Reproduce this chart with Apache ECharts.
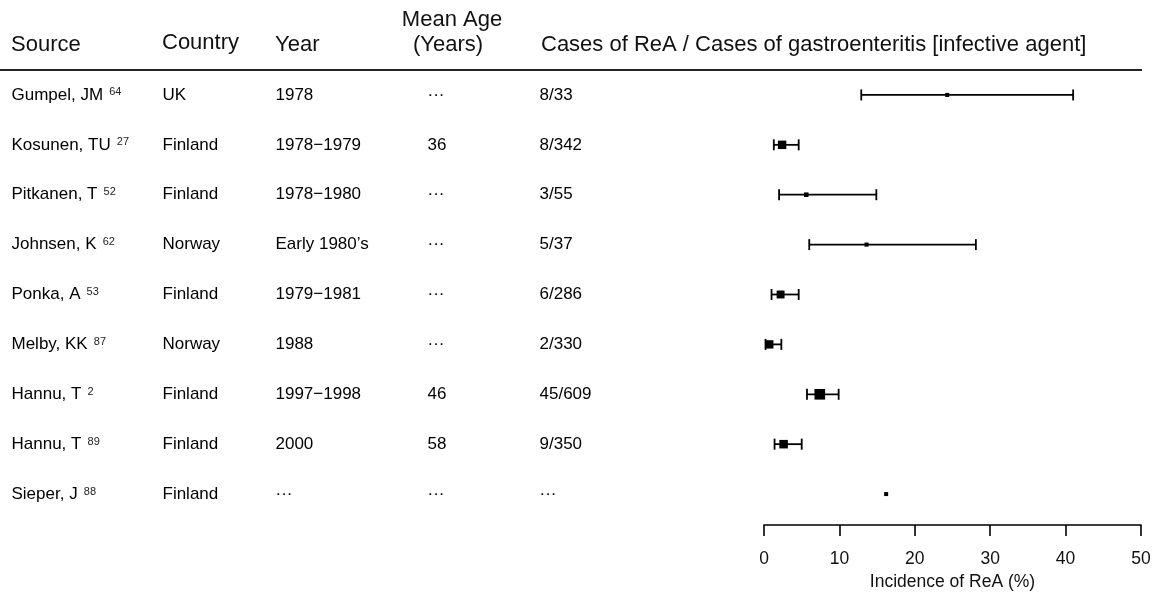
<!DOCTYPE html>
<html>
<head>
<meta charset="utf-8">
<script src="https://cdn.jsdelivr.net/npm/echarts@6/dist/echarts.min.js"></script>
<style>
html,body{margin:0;padding:0;background:#fff;}
#chart{width:1165px;height:597px;}
</style>
</head>
<body>
<div id="chart"></div>
<script>
// ---- Data ----
var sources   = ['Gumpel, JM','Kosunen, TU','Pitkanen, T','Johnsen, K','Ponka, A','Melby, KK','Hannu, T','Hannu, T','Sieper, J'];
var refs      = ['64','27','52','62','53','87','2','89','88'];
var countries = ['UK','Finland','Finland','Norway','Finland','Norway','Finland','Finland','Finland'];
var years     = ['1978','1978\u22121979','1978\u22121980','Early 1980\u2019s','1979\u22121981','1988','1997\u22121998','2000','\u00b7\u00b7\u00b7'];
var ages      = ['\u00b7\u00b7\u00b7','36','\u00b7\u00b7\u00b7','\u00b7\u00b7\u00b7','\u00b7\u00b7\u00b7','\u00b7\u00b7\u00b7','46','58','\u00b7\u00b7\u00b7'];
var cases     = ['8/33','8/342','3/55','5/37','6/286','2/330','45/609','9/350','\u00b7\u00b7\u00b7'];
var incidence = [24.3, 2.4, 5.6, 13.6, 2.2, 0.7, 7.4, 2.6, 16.2];
var ciLow     = [12.9, 1.3, 2.0, 6.0, 1.0, 0.2, 5.7, 1.4, null];
var ciHigh    = [41.0, 4.6, 14.9, 28.1, 4.6, 2.3, 9.9, 5.0, null];
var xTicks    = [0, 10, 20, 30, 40, 50];

// ---- Layout constants ----
var FONT = '"Liberation Sans", Arial, Helvetica, sans-serif';
var TXT = '#111';
var ROWTXT = '#000';
var GRID_TOP = 70, GRID_H = 449;
var COL = {source: 11, country: 162, year: 275, age: 427, cases: 539};

var rowIdx = sources.map(function (s, i) { return i; });
var denom = cases.map(function (c) { var p = c.split('/'); return p.length === 2 ? +p[1] : null; });

function textSeries(name, x, labels, rich) {
  return {
    name: name, type: 'scatter', xAxisIndex: 1, yAxisIndex: 1, silent: true,
    symbolSize: 1, itemStyle: {color: 'rgba(0,0,0,0)'},
    data: labels.map(function (t, i) { return {value: [x, i], label: {formatter: t}}; }),
    label: {
      show: true, position: 'right', distance: 0, opacity: 1,
      fontFamily: FONT, fontSize: 17, color: ROWTXT, rich: rich || {}
    },
    z: 5
  };
}

var sourceLabels = sources.map(function (s, i) {
  return '{m|' + s + '}{s|  ' + refs[i] + '}';
});

function hdr(text, x, y, align) {
  return {type: 'text', x: x, y: y, silent: true,
    style: {text: text, font: '22px ' + FONT, fill: TXT, textAlign: align || 'left', textVerticalAlign: 'middle'}};
}

var chart = echarts.init(document.getElementById('chart'), null, {renderer: 'canvas'});
var option = {
  backgroundColor: '#fff',
  animation: false,
  grid: [
    {left: 764, width: 377, top: GRID_TOP, height: GRID_H},
    {left: 0, width: 1165, top: GRID_TOP, height: GRID_H}
  ],
  xAxis: [
    {
      type: 'value', gridIndex: 0, min: 0, max: 50, interval: 10, position: 'bottom', offset: 6,
      axisLine: {show: true, lineStyle: {color: '#000', width: 1.6}},
      axisTick: {show: true, length: 11, lineStyle: {color: '#000', width: 1.6}},
      axisLabel: {fontFamily: FONT, fontSize: 17.5, color: TXT, margin: 25,
        customValues: xTicks},
      splitLine: {show: false},
      name: 'Incidence of ReA (%)', nameLocation: 'middle', nameGap: 47,
      nameTextStyle: {fontFamily: FONT, fontSize: 17.5, color: TXT}
    },
    {type: 'value', gridIndex: 1, min: 0, max: 1165, show: false}
  ],
  yAxis: [
    {type: 'category', gridIndex: 0, data: rowIdx, inverse: true, show: false},
    {type: 'category', gridIndex: 1, data: rowIdx, inverse: true, show: false}
  ],
  graphic: [
    hdr('Source', COL.source, 45),
    hdr('Country', COL.country, 43),
    hdr('Year', COL.year, 45),
    hdr('Mean Age', 452, 20, 'center'),
    hdr('(Years)', 448, 45, 'center'),
    hdr('Cases of ReA / Cases of gastroenteritis [infective agent]', 541, 45),
    {type: 'line', silent: true, shape: {x1: 0, y1: 70, x2: 1142, y2: 70}, style: {stroke: '#222', lineWidth: 2.2}}
  ],
  series: [
    {
      name: 'ci', type: 'custom', xAxisIndex: 0, yAxisIndex: 0, silent: true,
      data: rowIdx.filter(function (i) { return ciLow[i] != null; })
                  .map(function (i) { return [ciLow[i], i, ciHigh[i]]; }),
      encode: {x: [0, 2], y: 1},
      renderItem: function (params, api) {
        var a = api.coord([api.value(0), api.value(1)]);
        var b = api.coord([api.value(2), api.value(1)]);
        var h = 5.5;
        var st = {stroke: '#000', lineWidth: 1.8};
        return {
          type: 'group',
          children: [
            {type: 'line', shape: {x1: a[0], y1: a[1], x2: b[0], y2: b[1]}, style: st},
            {type: 'line', shape: {x1: a[0], y1: a[1] - h, x2: a[0], y2: a[1] + h}, style: st},
            {type: 'line', shape: {x1: b[0], y1: b[1] - h, x2: b[0], y2: b[1] + h}, style: st}
          ]
        };
      },
      z: 3
    },
    {
      name: 'est', type: 'scatter', xAxisIndex: 0, yAxisIndex: 0, silent: true,
      symbol: 'rect',
      data: rowIdx.map(function (i) { return [incidence[i], i, denom[i]]; }),
      symbolSize: function (v) { return v[2] ? 2 + 0.35 * Math.sqrt(v[2]) : 4; },
      itemStyle: {color: '#000', opacity: 1},
      z: 4
    },
    textSeries('source', COL.source, sourceLabels, {
      m: {fontFamily: FONT, fontSize: 17, color: ROWTXT},
      s: {fontFamily: FONT, fontSize: 11, color: '#222', padding: [0, 0, 5, 0]}
    }),
    textSeries('country', COL.country, countries),
    textSeries('year', COL.year, years),
    textSeries('age', COL.age, ages),
    textSeries('cases', COL.cases, cases)
  ]
};
chart.setOption(option);
</script>
</body>
</html>
